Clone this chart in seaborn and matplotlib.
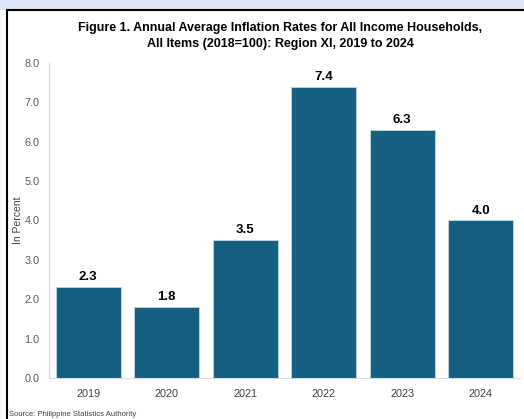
import matplotlib
matplotlib.use("Agg")
import matplotlib.pyplot as plt
import seaborn as sns
import pandas as pd
from matplotlib.patches import Rectangle

years = ["2019", "2020", "2021", "2022", "2023", "2024"]
inflation = [2.3, 1.8, 3.5, 7.4, 6.3, 4.0]
y_ticks = [0.0, 1.0, 2.0, 3.0, 4.0, 5.0, 6.0, 7.0, 8.0]

TITLE = ("Figure 1. Annual Average Inflation Rates for All Income Households,\n"
         "All Items (2018=100): Region XI, 2019 to 2024")
SOURCE = "Source: Philippine Statistics Authority"
BAR_COLOR = "#155f82"

sns.set_theme(style="white")
plt.rcParams["font.family"] = ["Liberation Sans", "DejaVu Sans"]

df = pd.DataFrame({"year": years, "rate": inflation})

fig = plt.figure(figsize=(5.24, 4.19), dpi=100)
ax = fig.add_axes([0.0935, 0.098, 0.8985, 0.7516])

sns.barplot(data=df, x="year", y="rate", color=BAR_COLOR, saturation=1,
            width=0.83, edgecolor="#c9d6de", linewidth=0.6, ax=ax)

for i, v in enumerate(inflation):
    ax.text(i, v + 0.1, f"{v:.1f}", ha="center", va="bottom",
            fontsize=9.5, fontweight="bold", color="black")

ax.set_xlim(-0.5, 5.5)
ax.set_ylim(0, 8)
ax.set_yticks(y_ticks)
ax.set_yticklabels([f"{t:.1f}" for t in y_ticks])
ax.tick_params(axis="y", colors="#595959", labelsize=7.8, length=0, pad=7)
ax.tick_params(axis="x", colors="#404040", labelsize=7.8, length=0, pad=8)
ax.set_xlabel("")
ax.set_ylabel("In Percent", fontsize=7.5, color="#404040")
ax.yaxis.set_label_coords(-0.056, 0.5)

for side in ["top", "right"]:
    ax.spines[side].set_visible(False)
ax.spines["left"].set_color("#d9d9d9")
ax.spines["bottom"].set_color("#d9d9d9")
ax.spines["left"].set_linewidth(0.8)
ax.spines["bottom"].set_linewidth(0.8)

fig.text(0.535, 0.914, TITLE, ha="center", va="center", fontsize=9,
         fontweight="bold", color="black", linespacing=1.45)
fig.text(0.018, 0.003, SOURCE, ha="left", va="bottom", fontsize=5.5,
         color="#404040")

# page frame: light blue strip on top, black border
fig.patches.append(Rectangle((0, 0.976), 1, 0.024, transform=fig.transFigure,
                             facecolor="#dde7f3", edgecolor="none", zorder=0))
fig.patches.append(Rectangle((0.0134, -0.05), 1.1, 1.026, transform=fig.transFigure,
                             facecolor="none", edgecolor="black", linewidth=1.5,
                             zorder=5))

fig.savefig("out.png", dpi=100)
